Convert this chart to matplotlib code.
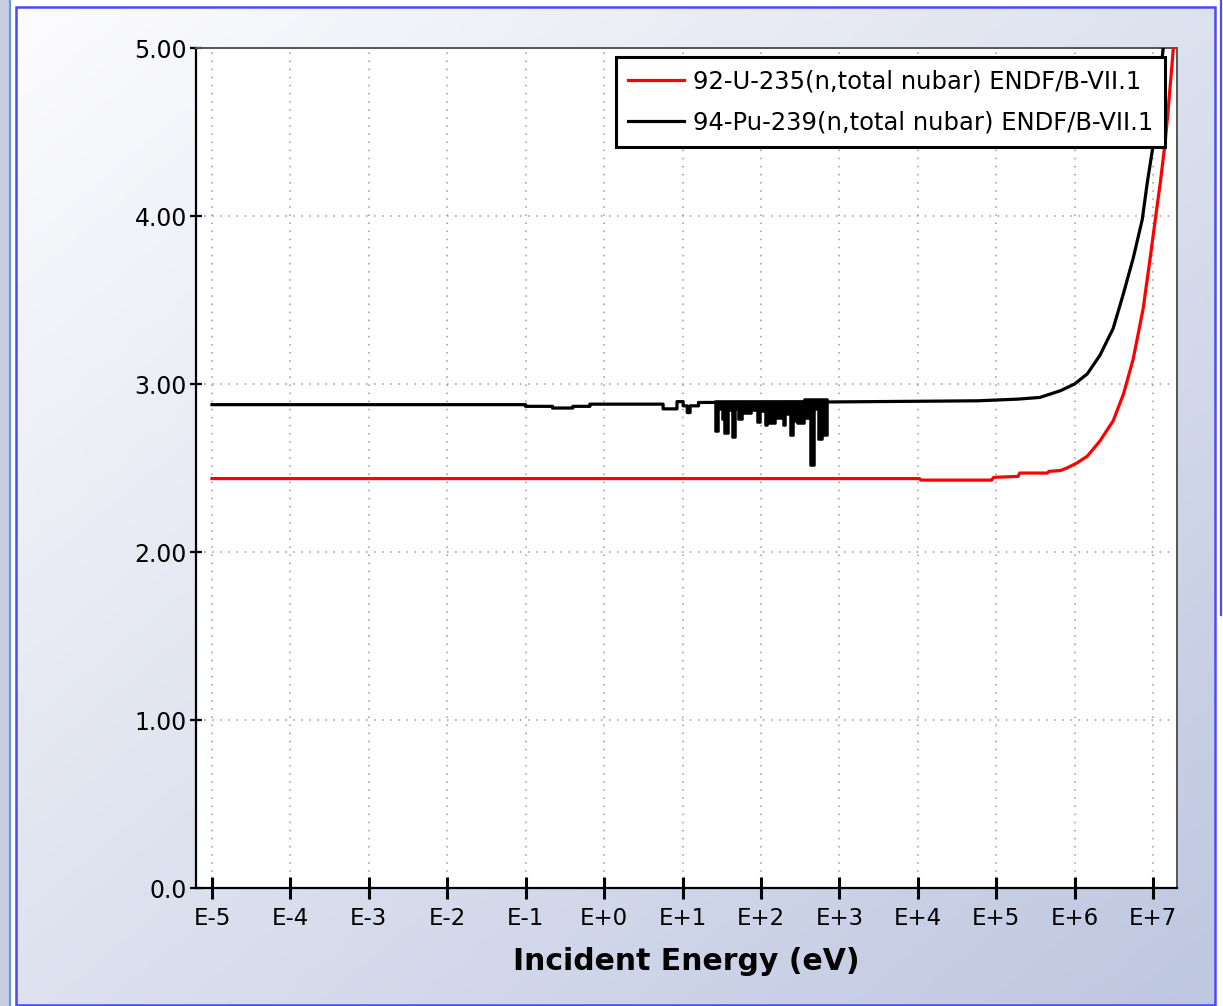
import numpy as np
import matplotlib
matplotlib.use('Agg')
import matplotlib.pyplot as plt
from matplotlib.lines import Line2D
from matplotlib.patches import Rectangle

# ENDF/B-VII.1 total nubar, read at selected energies (eV)
u235_e = [1e-5, 1.05e4, 1.1e4, 8.8e4, 9.2e4, 1.0e5, 1.9e5, 2.0e5, 4.5e5, 4.7e5,
          6.6e5, 8.0e5, 1.07e6, 1.45e6, 2.1e6, 3.1e6, 4.2e6, 5.6e6, 7.5e6,
          9.2e6, 1.07e7, 1.24e7, 1.43e7, 1.56e7, 1.76e7, 2.0e7]
u235_v = [2.437, 2.437, 2.428, 2.428, 2.443, 2.445, 2.45, 2.47, 2.47, 2.48,
          2.485, 2.50, 2.53, 2.57, 2.66, 2.78, 2.94, 3.15, 3.45,
          3.75, 3.98, 4.20, 4.44, 4.63, 4.92, 5.25]

# Pu-239: thermal / low resonance part (constant between energies)
pu_low_e = [1e-5, 0.1, 0.22, 0.4, 0.66, 5.66, 8.5, 10.2, 11.5, 12.5, 16.0]
pu_low_v = [2.877, 2.867, 2.857, 2.867, 2.880, 2.852, 2.895, 2.870, 2.830, 2.870, 2.890]
# Pu-239: above the resolved resonances
pu_high_e = [700, 5.8e4, 1.9e5, 3.6e5, 6.6e5, 1.0e6, 1.45e6, 2.1e6, 3.1e6,
             4.15e6, 5.6e6, 7.3e6, 8.4e6, 9.8e6, 1.35e7, 2.0e7]
pu_high_v = [2.893, 2.900, 2.910, 2.920, 2.960, 3.000, 3.060, 3.170, 3.330,
             3.530, 3.750, 3.980, 4.190, 4.390, 5.000, 5.700]
# Pu-239 resolved resonance band (lower / upper envelope per energy bin)
res_e = [26, 28.5, 32, 34, 38, 43, 47, 51, 58, 75, 90, 98, 113, 120, 151,
         190, 203, 236, 256, 285, 350, 425, 478, 537, 602, 695]
res_lo = [2.723, 2.850, 2.790, 2.711, 2.845, 2.687, 2.850, 2.789, 2.830, 2.845,
          2.776, 2.840, 2.753, 2.765, 2.800, 2.753, 2.820, 2.699, 2.780, 2.765,
          2.800, 2.520, 2.850, 2.675, 2.699, 2.890]
res_hi = [2.900, 2.900, 2.900, 2.900, 2.900, 2.900, 2.900, 2.900, 2.900, 2.900,
          2.900, 2.900, 2.900, 2.900, 2.900, 2.900, 2.900, 2.900, 2.900, 2.900,
          2.910, 2.910, 2.910, 2.910, 2.910, 2.890]

xtick_labels = ['E-5', 'E-4', 'E-3', 'E-2', 'E-1', 'E+0', 'E+1', 'E+2',
                'E+3', 'E+4', 'E+5', 'E+6', 'E+7']
ytick_labels = ['0.0', '1.00', '2.00', '3.00', '4.00', '5.00']


def step_path(e, v):
    # turn bin starts + values into a stair-step polyline
    xs, ys = [], []
    for i in range(len(e)):
        if i > 0:
            xs.append(e[i])
            ys.append(v[i - 1])
        xs.append(e[i])
        ys.append(v[i])
    return xs, ys


W, H = 1223, 1006
fig = plt.figure(figsize=(W / 100, H / 100), dpi=100)

# panel background with diagonal gradient and blue frame
bg = fig.add_axes([0, 0, 1, 1], zorder=-10)
bg.set_xlim(0, W)
bg.set_ylim(H, 0)
bg.axis('off')
gx, gy = np.meshgrid(np.linspace(0, 1, 300), np.linspace(0, 1, 250))
t = (gx + gy) / 2
c0 = np.array([0.99, 0.99, 0.995])
c1 = np.array([0.745, 0.78, 0.88])
grad = c0[None, None, :] * (1 - t[..., None]) + c1[None, None, :] * t[..., None]
bg.imshow(grad, extent=(16, 1215, 1005, 7), aspect='auto', interpolation='bilinear')
bg.add_patch(Rectangle((0, 0), 9, H, facecolor='#c9cde0', edgecolor='none'))
bg.add_patch(Rectangle((16, 7), 1199, 998, facecolor='none', edgecolor='#4a4cf0', lw=1.8))
bg.add_line(Line2D([10, 10], [0, H], color='#5a9ee8', lw=1.6))
bg.add_line(Line2D([1221, 1221], [0, 615], color='#4a4cf0', lw=1.6))

ax = fig.add_axes([196 / W, 1 - 888 / H, (1177 - 196) / W, (888 - 48) / H])
ax.set_facecolor('white')

ax.plot(u235_e, u235_v, color='#ff0000', lw=2.3,
        label='92-U-235(n,total nubar) ENDF/B-VII.1', zorder=3)

sx, sy = step_path(pu_low_e, pu_low_v)
pu_e = sx + pu_high_e
pu_v = sy + pu_high_v
ax.plot(pu_e, pu_v, color='black', lw=2.3,
        label='94-Pu-239(n,total nubar) ENDF/B-VII.1', zorder=4)
ax.fill_between(res_e, res_lo, res_hi, step='post', color='black', lw=1.8,
                edgecolor='black', zorder=4)

ax.set_xscale('log')
ax.set_xlim(10 ** -5.204, 10 ** 7.306)
ax.set_ylim(0, 5.0)
ax.set_xticks([10.0 ** k for k in range(-5, 8)])
ax.set_xticklabels(xtick_labels)
ax.xaxis.set_minor_locator(matplotlib.ticker.NullLocator())
ax.set_yticks(range(6))
ax.set_yticklabels(ytick_labels)

ax.grid(True, color='#999999', lw=1.1, linestyle=(0, (1, 4.3)))
ax.tick_params(axis='x', direction='inout', length=16, width=2.2, labelsize=16.5,
               pad=6, color='black')
ax.tick_params(axis='y', direction='inout', length=9, width=1.6, labelsize=17,
               pad=2, color='black')
for s in ['left', 'bottom']:
    ax.spines[s].set_linewidth(1.6)
    ax.spines[s].set_color('black')
for s in ['top', 'right']:
    ax.spines[s].set_linewidth(1.4)
    ax.spines[s].set_color('#555555')

ax.set_xlabel('Incident Energy (eV)', fontsize=21.5, fontweight='bold', labelpad=12)

leg = ax.legend(loc='upper right', bbox_to_anchor=(0.988, 0.989), borderaxespad=0,
                fontsize=17.5, fancybox=False, framealpha=1, handlelength=2.3,
                handletextpad=0.35, labelspacing=0.72, borderpad=0.5)
leg.get_frame().set_edgecolor('black')
leg.get_frame().set_linewidth(2.2)

fig.savefig('out.png', dpi=100)
